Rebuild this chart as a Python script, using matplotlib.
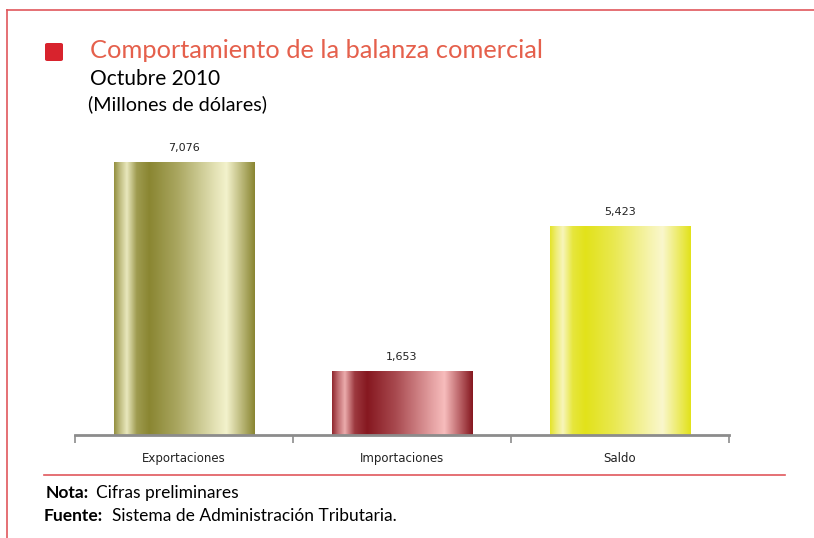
import numpy as np
import matplotlib
matplotlib.use('Agg')
import matplotlib.pyplot as plt
from matplotlib.colors import LinearSegmentedColormap
from matplotlib.patches import FancyBboxPatch
from matplotlib.lines import Line2D

# Data
categories = ['Exportaciones', 'Importaciones', 'Saldo']
values = [7076, 1653, 5423]
value_labels = ['7,076', '1,653', '5,423']

# gradient stops (dark, light) per bar
bar_colors = [('#8a8632', '#f3f2cc'), ('#861820', '#f7bcbc'), ('#e2e21a', '#faf7cc')]

fig = plt.figure(figsize=(8.14, 5.38), dpi=100)
W, H = 814, 538

def fx(px):
    return px / W

def fy(py):
    return 1 - py / H

# Frame lines
red = '#e0575c'
fig.add_artist(Line2D([fx(7), 1], [fy(10), fy(10)], color=red, lw=1.2))
fig.add_artist(Line2D([fx(7), fx(7)], [fy(10), 0], color=red, lw=1.2))
fig.add_artist(Line2D([fx(44), fx(785)], [fy(475), fy(475)], color=red, lw=1.2))

# Title block
fig.add_artist(FancyBboxPatch((fx(45), fy(61)), fx(18), 18 / H,
                              boxstyle='round,pad=0,rounding_size=0.003',
                              fc='#d8232d', ec='none', transform=fig.transFigure))
fig.text(fx(90), fy(50), 'Comportamiento de la balanza comercial', color='#e5604c',
         fontsize=18.3, family='Lato', va='center')
fig.text(fx(90), fy(79), 'Octubre 2010', color='black', fontsize=15, family='Lato', va='center')
fig.text(fx(88), fy(104), '(Millones de dólares)', color='black', fontsize=14.2, family='Lato', va='center')

# Axes
ax = fig.add_axes([fx(75), fy(435), fx(729) - fx(75), 309 / H])
x = np.arange(len(categories))
bars = ax.bar(x, values, width=0.645, color='none', edgecolor='none')

stops = [0.0, 0.04, 0.09, 0.16, 0.25, 0.45, 0.72, 0.80, 0.92, 1.0]
mix = [0.1, 0.5, 0.9, 0.2, 0.0, 0.3, 0.85, 1.0, 0.4, 0.0]
for b, (dark, light) in zip(bars, bar_colors):
    cmap = LinearSegmentedColormap.from_list('g', [dark, light])
    grad = np.interp(np.linspace(0, 1, 256), stops, mix)
    img = ax.imshow(grad[np.newaxis, :], aspect='auto', cmap=cmap, vmin=0, vmax=1,
                    extent=[b.get_x(), b.get_x() + b.get_width(), 0, b.get_height()],
                    zorder=2)
    img.set_clip_path(b)

for xi, v, lab in zip(x, values, value_labels):
    ax.text(xi, v + 230, lab, ha='center', va='bottom', fontsize=8, color='#222222')

ax.set_xlim(-0.5, 2.5)
ax.set_ylim(0, 8000)
for s in ['top', 'right', 'left']:
    ax.spines[s].set_visible(False)
ax.spines['bottom'].set_color('#8c8c8c')
ax.spines['bottom'].set_linewidth(2)
ax.spines['bottom'].set_zorder(3)
ax.set_yticks([])
ax.set_xticks(x)
ax.set_xticklabels(categories, fontsize=8.5, color='#222222')
ax.tick_params(axis='x', which='major', length=0, pad=12)
ax.set_xticks([-0.5, 0.5, 1.5, 2.5], minor=True)
ax.tick_params(axis='x', which='minor', length=6, width=1.2, color='#8c8c8c', direction='out')

# Footer
fig.text(fx(46), fy(493), 'Nota:', fontsize=12.5, fontweight='bold', family='Lato', va='center')
fig.text(fx(96), fy(493), 'Cifras preliminares', fontsize=12.5, family='Lato', va='center')
fig.text(fx(44), fy(516), 'Fuente:', fontsize=12.5, fontweight='bold', family='Lato', va='center')
fig.text(fx(112), fy(516), 'Sistema de Administración Tributaria.', fontsize=12.5, family='Lato', va='center')

fig.savefig('out.png', dpi=100)
